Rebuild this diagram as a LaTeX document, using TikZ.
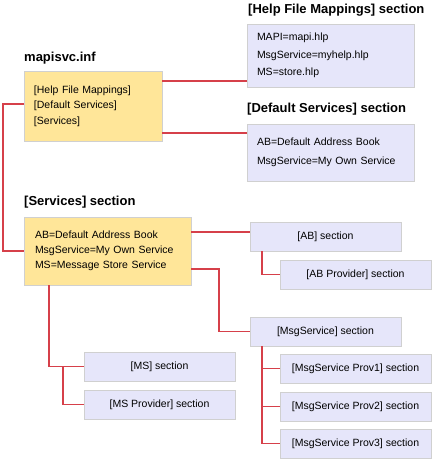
\documentclass[tikz,border=0pt]{standalone}
\usepackage{fontspec}
\setmainfont{Liberation Sans}
\usetikzlibrary{positioning,calc}
\definecolor{ybox}{HTML}{FFE699}
\definecolor{lbox}{HTML}{E6E6FA}
\definecolor{bord}{HTML}{D0D0D0}
\definecolor{conred}{HTML}{D6404A}
\tikzset{
  base/.style={draw=bord, line width=1pt, anchor=north west, inner sep=0pt, outer sep=0pt},
  yellowbox/.style={base, fill=ybox, align=left},
  bluebox/.style={base, fill=lbox},
  smallbox/.style={bluebox, minimum width=151pt, minimum height=29pt, font=\fontsize{10.5}{12}\selectfont},
  title/.style={anchor=west, inner sep=0pt, font=\fontsize{13}{15}\selectfont\bfseries},
  conn/.style={draw=conred, line width=1.4pt}
}
\begin{document}
\begin{tikzpicture}[x=1pt,y=-1pt]
\useasboundingbox (0,0) rectangle (432,459);
% titles
\node[title] (tinf) at (24,58) {mapisvc.inf};
\node[title] (thelp) at (248,10) {[Help File Mappings] section};
\node[title] (tdef) at (247,109) {[Default Services] section};
\node[title] (tserv) at (24,202) {[Services] section};
% main boxes
\node[yellowbox, minimum width=138pt, minimum height=70pt, text width=118pt, inner xsep=10pt,
  font=\fontsize{10.5}{15.5}\selectfont] (inf) at (24,71)
  {{[Help File Mappings]}\\{[Default Services]}\\{[Services]}};
\node[bluebox, minimum width=167pt, minimum height=63pt, text width=147pt, inner xsep=10pt, align=left,
  font=\fontsize{10.5}{17.5}\selectfont] (help) at (247,24)
  {MAPI=mapi.hlp\\MsgService=myhelp.hlp\\MS=store.hlp};
\node[bluebox, minimum width=167pt, minimum height=57pt, text width=147pt, inner xsep=10pt, align=left,
  font=\fontsize{10.5}{19}\selectfont] (def) at (247,124)
  {AB=Default Address Book\\MsgService=My Own Service};
\node[yellowbox, minimum width=167pt, minimum height=68pt, text width=145pt, inner xsep=11pt,
  font=\fontsize{10.5}{15}\selectfont] (serv) at (24,217)
  {AB=Default Address Book\\MsgService=My Own Service\\MS=Message Store Service};
% small boxes
\node[smallbox] (ab) at (250,222) {[AB] section};
\node[smallbox] (abp) at (280,260) {[AB Provider] section};
\node[smallbox] (msg) at (250,317) {[MsgService] section};
\node[smallbox] (p1) at (280,354) {[MsgService Prov1] section};
\node[smallbox] (p2) at (280,392) {[MsgService Prov2] section};
\node[smallbox] (p3) at (280,429) {[MsgService Prov3] section};
\node[smallbox] (ms) at (84,352) {[MS] section};
\node[smallbox] (msp) at (84,390) {[MS Provider] section};
% connectors
\draw[conn] ([yshift=-10pt]inf.north east) -- ([yshift=-10pt]inf.north east -| help.west);
\draw[conn] ([yshift=8pt]inf.south east) -- ([yshift=8pt]inf.south east -| def.west);
\draw[conn] ([yshift=2pt]inf.west) -- ++(-21,0) |- (serv.west);
\draw[conn] ([yshift=-15pt]serv.north east) -- ([yshift=-15pt]serv.north east -| ab.west);
\draw[conn] ([yshift=16pt]serv.south east) -- ++(28,0) |- (msg.west);
\draw[conn] ([xshift=12pt]ab.south west) |- (abp.west);
\coordinate (mstem) at ([xshift=12pt]msg.south west);
\draw[conn] (mstem) |- (p3.west);
\draw[conn] (p1.west) -- (p1.west -| mstem);
\draw[conn] (p2.west) -- (p2.west -| mstem);
\draw[conn] ([xshift=25pt]serv.south west) |- (ms.west);
\coordinate (msj) at ([xshift=-21pt]ms.west);
\draw[conn] (msj) |- (msp.west);
\end{tikzpicture}
\end{document}
